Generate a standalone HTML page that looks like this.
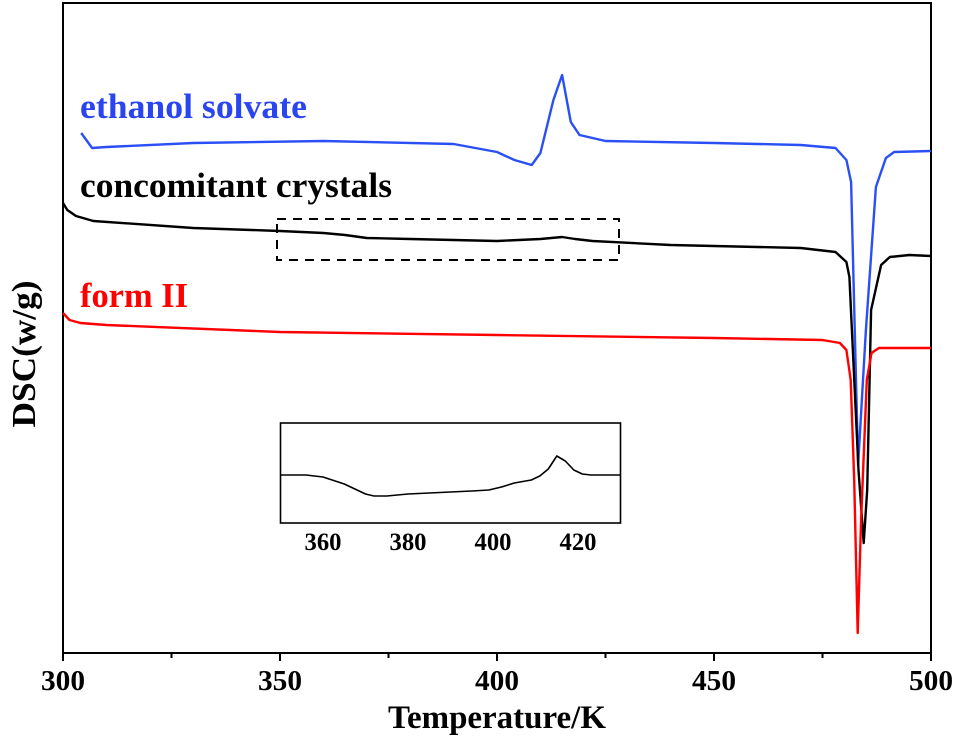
<!DOCTYPE html>
<html><head><meta charset="utf-8"><style>
body{margin:0;background:#fff}
text{font-family:"Liberation Serif",serif;font-weight:bold}
</style></head><body>
<svg id="c" width="955" height="737" xmlns="http://www.w3.org/2000/svg">
<rect x="63" y="3" width="868" height="650" fill="none" stroke="#000" stroke-width="2"/>
<text x="497" y="728" font-size="33" text-anchor="middle" textLength="218" lengthAdjust="spacingAndGlyphs">Temperature/K</text>
<text transform="translate(35,354) rotate(-90)" font-size="34" text-anchor="middle" textLength="147" lengthAdjust="spacingAndGlyphs">DSC(w/g)</text>
<text x="80" y="118" font-size="35" fill="#2a45f0" textLength="227" lengthAdjust="spacingAndGlyphs">ethanol solvate</text>
<text x="80" y="197" font-size="35" fill="#000" textLength="312" lengthAdjust="spacingAndGlyphs">concomitant crystals</text>
<text x="80" y="307" font-size="35" fill="#f00" textLength="108" lengthAdjust="spacingAndGlyphs">form II</text>
<rect x="277" y="219" width="342" height="41" fill="none" stroke="#000" stroke-width="2" stroke-dasharray="9,7"/>
<g id="g"></g>
</svg>
<script>
const xTicks=[300,350,400,450,500];
const xMinor=[325,375,425,475];
const blueT=[304.2,306.7,310,330,360,390,400,404,408,410,413,415,417,419,425,450,470,478,480.5,481.6,483.2,485,487.3,489.6,491.5,500];
const blueV=[520,505,506,510,512,509,501,493,488,500,553,578,531,518,512,510,508,505,493,471,188,323,466,495,501,502];
const blackT=[300,301,303,307,330,350,360,365,370,380,400,405,410,415,418,422,440,470,478,480.5,481.2,483.3,484.5,485.3,486.2,488.5,490.5,495,500];
const blackV=[450,443,437,432,425,422,420,418,415,414,412,413,414,416,414,412,408,405,401,391,376,183,110,163,343,388,396,398,397];
const redT=[300,301.5,304,310,350,400,450,475,479,480.5,481.5,482.3,483.1,483.9,485.2,486.3,488,500];
const redV=[340,333,330,328,321,318,315,313,310,303,273,173,20,133,273,300,305,305];
const insetT=[350,356,360,365,370,372,375,380,390,395,399,402,405,409,411,413,415,417,419,421,423,430];
const insetV=[48,48,46,39,29,27,27,29,31,32,33,36,40,43,47,54,67,62,53,49,48,48];
const insetTicks=[360,380,400,420];

const NS="http://www.w3.org/2000/svg";
const g=document.getElementById('g');
const X=t=>63+(t-300)*868/200;
const Y=v=>653-v;
const IX=t=>280.5+(t-350)*340/80;
const IY=v=>523-v;
function mk(tag,a){const e=document.createElementNS(NS,tag);for(const k in a)e.setAttribute(k,a[k]);g.appendChild(e);return e;}
xTicks.forEach(t=>{
  const l=mk('line',{x1:X(t),x2:X(t),y1:653,y2:661,stroke:'#000','stroke-width':2});
  
  
  const tx=mk('text',{x:X(t),y:690,'font-size':28,'text-anchor':'middle',textLength:44,lengthAdjust:'spacingAndGlyphs'});tx.textContent=t;
  
  
});
xMinor.forEach(t=>{
  const l=mk('line',{x1:X(t),x2:X(t),y1:653,y2:658,stroke:'#000','stroke-width':2});
  
  
});
function series(T,V,fx,fy,col,name,w){
  const d=T.map((t,i)=>(i?'L':'M')+fx(t).toFixed(1)+','+fy(V[i]).toFixed(1)).join('');
  const p=mk('path',{d:d,fill:'none',stroke:col,'stroke-width':w,'stroke-linejoin':'round'});
  
  
}
series(blueT,blueV,X,Y,'#2a50f5','ethanol-solvate-line',2.4);
series(blackT,blackV,X,Y,'#000','concomitant-crystals-line',2.4);
series(redT,redV,X,Y,'#f00','form-ii-line',2.4);
const ib=mk('rect',{x:280.5,y:423,width:340,height:100,fill:'#fff',stroke:'#000','stroke-width':1.6});


series(insetT,insetV,IX,IY,'#000','inset-line',1.6);
insetTicks.forEach(t=>{
  const tx=mk('text',{x:IX(t),y:550,'font-size':25,'text-anchor':'middle',textLength:37,lengthAdjust:'spacingAndGlyphs'});tx.textContent=t;
  
  
});
</script>
</body></html>
